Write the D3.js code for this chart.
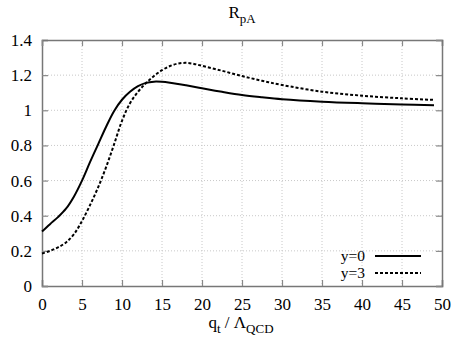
<!DOCTYPE html>
<html><head><meta charset="utf-8">
<script src="https://cdn.jsdelivr.net/npm/d3@7"></script>
<style>body{margin:0;background:#fff}svg{display:block}svg text{font-family:"Liberation Serif","DejaVu Serif",serif !important;fill:#000}</style>
</head><body><svg id="c" width="459" height="345"></svg>
<script>
const xTicks = [0,5,10,15,20,25,30,35,40,45,50];
const yTicks = [0,0.2,0.4,0.6,0.8,1,1.2,1.4];
const qt0 = [0,1,2,3,4,5,6,7,8,9,10,11,12,13,14,15,16,17,18,20,22.5,25,27.5,30,35,40,45,49];
const y0  = [0.31,0.352,0.392,0.44,0.51,0.60,0.705,0.805,0.905,0.995,1.06,1.105,1.137,1.156,1.163,1.162,1.157,1.150,1.142,1.125,1.105,1.087,1.074,1.063,1.049,1.040,1.033,1.028];
const qt3 = [0,1,2,3,4,5,6,7,8,9,10,11,12,13,14,15,16,17,18,19,20,22.5,25,27.5,30,35,40,45,49];
const y3  = [0.185,0.20,0.22,0.248,0.295,0.37,0.46,0.56,0.675,0.805,0.94,1.04,1.105,1.155,1.195,1.228,1.252,1.266,1.27,1.264,1.253,1.225,1.195,1.168,1.144,1.106,1.083,1.068,1.059];
const series = [
  {name:"y=0", xs:qt0, ys:y0, dash:null},
  {name:"y=3", xs:qt3, ys:y3, dash:"3,2"}
];

const svg = d3.select("#c");
const L=42, R=442, T=40, B=286;
const x = d3.scaleLinear().domain([0,50]).range([L,R]);
const y = d3.scaleLinear().domain([0,1.4]).range([B,T]);

// grid
const g = svg.append("g");
g.selectAll(".gx").data(xTicks.slice(1,-1)).enter().append("line")
  .attr("x1",d=>x(d)).attr("x2",d=>x(d)).attr("y1",T).attr("y2",B)
  .attr("stroke","#c8c8c8").attr("stroke-width",1).attr("stroke-dasharray","1,2");
g.selectAll(".gy").data(yTicks.slice(1,-1)).enter().append("line")
  .attr("x1",L).attr("x2",R).attr("y1",d=>y(d)).attr("y2",d=>y(d))
  .attr("stroke","#c8c8c8").attr("stroke-width",1).attr("stroke-dasharray","1,2");

// axes
const fmt = d=> String(+d.toFixed(1));
const ax = svg.append("g").attr("transform",`translate(0,${B})`)
  .call(d3.axisBottom(x).tickValues(xTicks).tickSize(-6).tickPadding(12).tickFormat(fmt));
const ay = svg.append("g").attr("transform",`translate(${L},0)`)
  .call(d3.axisLeft(y).tickValues(yTicks).tickSize(-6).tickPadding(10).tickFormat(fmt));
const axt = svg.append("g").attr("transform",`translate(0,${T})`)
  .call(d3.axisTop(x).tickValues(xTicks).tickSize(-6).tickFormat(""));
const ayr = svg.append("g").attr("transform",`translate(${R},0)`)
  .call(d3.axisRight(y).tickValues(yTicks).tickSize(-6).tickFormat(""));
[ax,ay,axt,ayr].forEach(a=>{
  a.attr("font-family",null).attr("font-size",null);
  a.select(".domain").attr("stroke","#777").attr("stroke-width",1.5);
  a.selectAll(".tick line").attr("stroke","#888").attr("stroke-width",1.2);
  a.selectAll("text").style("font-size","17px").style("font-family","'Liberation Serif', serif").attr("fill","#000");
});

// curves
const line = d3.line().x(d=>x(d[0])).y(d=>y(d[1])).curve(d3.curveCatmullRom.alpha(0.5));
series.forEach(s=>{
  const pts = s.xs.map((v,i)=>[v,s.ys[i]]);
  svg.append("path").datum(pts).attr("d",line).attr("fill","none")
    .attr("stroke","#000").attr("stroke-width",2)
    .attr("stroke-dasharray",s.dash);
});

// legend
series.forEach((s,i)=>{
  const yy = 256 + i*17;
  svg.append("text").attr("x",365).attr("y",yy+5).attr("text-anchor","end")
    .style("font-size","15.5px").text(s.name);
  svg.append("line").attr("x1",375).attr("x2",421).attr("y1",yy).attr("y2",yy)
    .attr("stroke","#000").attr("stroke-width",2).attr("stroke-dasharray",s.dash);
});

// title
const t = svg.append("text").attr("x",242).attr("y",18).attr("text-anchor","middle").style("font-size","17px");
t.append("tspan").text("R");
t.append("tspan").attr("dy",5).style("font-size","13px").text("pA");

// x label
const xl = svg.append("text").attr("x",241).attr("y",328).attr("text-anchor","middle").style("font-size","17px");
xl.append("tspan").text("q");
xl.append("tspan").attr("dy",5).style("font-size","13px").text("t");
xl.append("tspan").attr("dy",-5).text(" / Λ");
xl.append("tspan").attr("dy",5).style("font-size","13px").text("QCD");
</script></body></html>
